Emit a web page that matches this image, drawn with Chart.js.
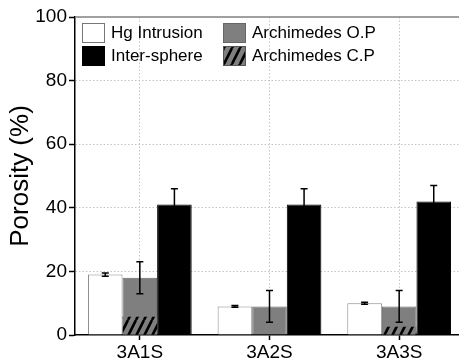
<!DOCTYPE html>
<html>
<head>
<meta charset="utf-8">
<script src="https://cdn.jsdelivr.net/npm/chart.js@4/dist/chart.umd.min.js"></script>
<style>
html,body{margin:0;padding:0;background:#fff;overflow:hidden;}
#wrap{width:470px;height:363px;position:relative;}
</style>
</head>
<body>
<div id="wrap"><canvas id="c"></canvas></div>
<script>
const categories = ['3A1S', '3A2S', '3A3S'];
const hgIntrusion = [19, 9, 10];
const hgErr = [0.5, 0.3, 0.3];
const archOP = [18, 9, 9];
const archOPErr = [5, 5, 5];
const archCP = [5.7, 0, 2.6];
const interSphere = [41, 41, 42];
const interErr = [5, 5, 5];
const yTicks = [0, 20, 40, 60, 80, 100];
const legendLabels = ['Hg Intrusion', 'Archimedes O.P', 'Inter-sphere', 'Archimedes C.P'];

const FONT = '"Liberation Sans", Arial, sans-serif';
const GRAY = '#7f7f7f';

function hatch() {
  const p = document.createElement('canvas');
  p.width = 8; p.height = 16;
  const g = p.getContext('2d');
  g.fillStyle = GRAY; g.fillRect(0, 0, 8, 16);
  g.strokeStyle = '#000'; g.lineWidth = 2.6;
  for (const dx of [-8, 0, 8]) {
    g.beginPath(); g.moveTo(dx, 16); g.lineTo(dx + 8, 0); g.stroke();
  }
  return document.getElementById('c').getContext('2d').createPattern(p, 'repeat');
}
const hatchPattern = hatch();

const errorBars = {
  id: 'errorBars',
  afterDatasetsDraw(chart) {
    const ctx = chart.ctx;
    const y = chart.scales.y;
    ctx.save();
    ctx.strokeStyle = '#000';
    ctx.lineWidth = 1.5;
    chart.data.datasets.forEach((ds, di) => {
      if (!ds.errors) return;
      const meta = chart.getDatasetMeta(di);
      meta.data.forEach((bar, i) => {
        const v = ds.data[i], e = ds.errors[i];
        const yt = y.getPixelForValue(v + e), yb = y.getPixelForValue(v - e);
        const x = bar.x, cw = 3.5;
        ctx.beginPath();
        ctx.moveTo(x, yt); ctx.lineTo(x, yb);
        ctx.moveTo(x - cw, yt); ctx.lineTo(x + cw, yt);
        ctx.moveTo(x - cw, yb); ctx.lineTo(x + cw, yb);
        ctx.stroke();
      });
    });
    ctx.restore();
  }
};

const frameLegend = {
  id: 'frameLegend',
  afterDraw(chart) {
    const ctx = chart.ctx;
    const a = chart.chartArea;
    ctx.save();
    ctx.strokeStyle = '#808080';
    ctx.lineWidth = 1.5;
    ctx.beginPath(); ctx.moveTo(a.left, a.top); ctx.lineTo(a.right + 10, a.top); ctx.stroke();
    const fills = ['#ffffff', GRAY, '#000000', hatchPattern];
    const strokes = ['#777', '#666', '#000', '#555'];
    const cols = [a.left + 7, a.left + 148];
    const rows = [a.top + 6, a.top + 29];
    ctx.font = '17px ' + FONT;
    ctx.textBaseline = 'middle';
    for (let k = 0; k < 4; k++) {
      const bx = cols[k % 2], by = rows[Math.floor(k / 2)];
      ctx.fillStyle = fills[k];
      ctx.fillRect(bx, by, 23, 20);
      ctx.strokeStyle = strokes[k];
      ctx.lineWidth = 1;
      ctx.strokeRect(bx + 0.5, by + 0.5, 22, 19);
      ctx.fillStyle = '#000';
      ctx.fillText(legendLabels[k], bx + 29, by + 10.5);
    }
    ctx.restore();
  }
};

const gridDash = [1.5, 2];

new Chart(document.getElementById('c'), {
  type: 'bar',
  data: {
    labels: categories,
    datasets: [
      { label: legendLabels[0], data: hgIntrusion, errors: hgErr, stack: 'hg',
        backgroundColor: '#ffffff', borderColor: '#888', borderWidth: 1 },
      { label: legendLabels[3], data: archCP, stack: 'arch',
        backgroundColor: hatchPattern, borderColor: '#555', borderWidth: 0 },
      { label: legendLabels[1], data: archOP, errors: archOPErr, stack: 'arch',
        backgroundColor: GRAY, borderColor: '#666', borderWidth: 1 },
      { label: legendLabels[2], data: interSphere, errors: interErr, stack: 'inter',
        backgroundColor: '#000000', borderColor: '#000', borderWidth: 1 }
    ]
  },
  options: {
    responsive: true,
    maintainAspectRatio: false,
    animation: false,
    devicePixelRatio: 1,
    categoryPercentage: 0.8,
    barPercentage: 1.0,
    layout: { padding: { top: 17, right: 6, left: 0, bottom: 0 } },
    plugins: { legend: { display: false }, tooltip: { enabled: false } },
    scales: {
      x: {
        grid: { offset: false, color: '#c4c4c4', lineWidth: 1, tickLength: 5, tickColor: '#000', tickWidth: 1.5 },
        border: { color: '#000', width: 1.5, dash: gridDash },
        ticks: { color: '#000', font: { size: 19, family: FONT }, padding: 1 },
        afterFit(s) { s.height = 28; }
      },
      y: {
        stacked: false,
        min: 0, max: 100,
        afterBuildTicks(s) { s.ticks = yTicks.map(v => ({ value: v })); },
        grid: { color: (c) => (c.tick && (c.tick.value === 100 || c.tick.value === 0)) ? 'rgba(0,0,0,0)' : '#c4c4c4',
                lineWidth: 1, tickLength: 6, tickColor: '#000', tickWidth: 1.5 },
        border: { color: '#000', width: 1.5, dash: gridDash },
        ticks: { color: '#000', font: { size: 19, family: FONT }, padding: 2 },
        title: { display: true, text: 'Porosity (%)', color: '#000', font: { size: 26, family: FONT }, padding: { top: 5, bottom: 0 } },
        afterFit(s) { s.width = 75; }
      }
    }
  },
  plugins: [errorBars, frameLegend]
});
</script>
</body>
</html>
